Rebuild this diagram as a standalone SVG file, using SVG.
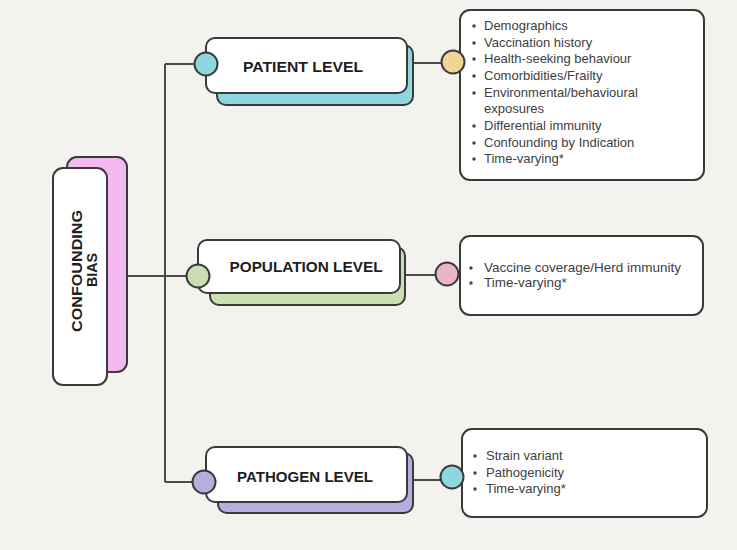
<svg xmlns="http://www.w3.org/2000/svg" width="737" height="550" viewBox="0 0 737 550">
  <defs>
    <style>
      .card { fill: #ffffff; stroke: #3a3a3a; stroke-width: 2; }
      .back { stroke: #3a3a3a; stroke-width: 2; }
      .dot { stroke: #3a3a3a; stroke-width: 2; }
      .link { fill: none; stroke: #4a4a4a; stroke-width: 2; }
      .title { font-family: "Liberation Sans", "DejaVu Sans", sans-serif; font-weight: bold; font-size: 15px; fill: #1e1e1e; text-anchor: middle; }
      .item { font-family: "Liberation Sans", Arial, sans-serif; font-size: 13px; fill: #404040; }
      .bullet { fill: #404040; }
    </style>
  </defs>

  <rect width="737" height="550" fill="#f3f2ee"/>

  <!-- connectors -->
  <g id="connectors">
    <path class="link" d="M127 276 H165"/>
    <path class="link" d="M165 64 V482"/>
    <path class="link" d="M165 64 H196"/>
    <path class="link" d="M165 276 H188"/>
    <path class="link" d="M165 482 H193"/>
    <path class="link" d="M412 63 H444"/>
    <path class="link" d="M405 275 H436"/>
    <path class="link" d="M412 480 H441"/>
  </g>

  <!-- root -->
  <g id="confounding-bias">
    <rect class="back" x="67" y="157" width="60" height="215" rx="10" fill="#f4b9f1"/>
    <rect class="card" x="53" y="168" width="54" height="217" rx="10"/>
    <text class="title" transform="translate(82 271) rotate(-90)" textLength="122" lengthAdjust="spacingAndGlyphs">CONFOUNDING</text>
    <text class="title" transform="translate(97 270) rotate(-90)" textLength="34" lengthAdjust="spacingAndGlyphs">BIAS</text>
  </g>

  <!-- patient level -->
  <g id="patient-level">
    <rect class="back" x="217" y="45" width="196" height="60" rx="9" fill="#8dd8df"/>
    <rect class="card" x="206" y="38" width="201" height="55" rx="9"/>
    <circle class="dot" cx="206" cy="64" r="11.5" fill="#8dd8df"/>
    <text class="title" x="303" y="72" textLength="120" lengthAdjust="spacingAndGlyphs">PATIENT LEVEL</text>
  </g>

  <g id="patient-factors">
    <rect class="card" x="460" y="10" width="244" height="170" rx="10"/>
    <circle class="dot" cx="453" cy="62" r="11.5" fill="#f1d592"/>
    <g class="bullet">
      <circle cx="474" cy="26" r="1.7"/>
      <circle cx="474" cy="43" r="1.7"/>
      <circle cx="474" cy="59" r="1.7"/>
      <circle cx="474" cy="76" r="1.7"/>
      <circle cx="474" cy="93" r="1.7"/>
      <circle cx="474" cy="126" r="1.7"/>
      <circle cx="474" cy="143" r="1.7"/>
      <circle cx="474" cy="159" r="1.7"/>
    </g>
    <text class="item" x="484" y="30">Demographics</text>
    <text class="item" x="484" y="47">Vaccination history</text>
    <text class="item" x="484" y="63">Health-seeking behaviour</text>
    <text class="item" x="484" y="80">Comorbidities/Frailty</text>
    <text class="item" x="484" y="97">Environmental/behavioural</text>
    <text class="item" x="484" y="113">exposures</text>
    <text class="item" x="484" y="130">Differential immunity</text>
    <text class="item" x="484" y="147">Confounding by Indication</text>
    <text class="item" x="484" y="163">Time-varying*</text>
  </g>

  <!-- population level -->
  <g id="population-level">
    <rect class="back" x="210" y="247" width="195" height="58" rx="9" fill="#c9dfb1"/>
    <rect class="card" x="198" y="240" width="202" height="53" rx="9"/>
    <circle class="dot" cx="198" cy="276" r="11.5" fill="#c9dfb1"/>
    <text class="title" x="306" y="272" textLength="153" lengthAdjust="spacingAndGlyphs">POPULATION LEVEL</text>
  </g>

  <g id="population-factors">
    <rect class="card" x="460" y="236" width="243" height="79" rx="10"/>
    <circle class="dot" cx="447" cy="274" r="11.5" fill="#eab5c9"/>
    <g class="bullet">
      <circle cx="471" cy="268" r="1.7"/>
      <circle cx="471" cy="283" r="1.7"/>
    </g>
    <text class="item" x="484" y="272" style="font-size:13.5px">Vaccine coverage/Herd immunity</text>
    <text class="item" x="484" y="287" style="font-size:13.5px">Time-varying*</text>
  </g>

  <!-- pathogen level -->
  <g id="pathogen-level">
    <rect class="back" x="218" y="453" width="195" height="60" rx="9" fill="#b7aee0"/>
    <rect class="card" x="206" y="447" width="201" height="55" rx="9"/>
    <circle class="dot" cx="204" cy="482" r="11.5" fill="#b7aee0"/>
    <text class="title" x="305" y="482" textLength="136" lengthAdjust="spacingAndGlyphs">PATHOGEN LEVEL</text>
  </g>

  <g id="pathogen-factors">
    <rect class="card" x="462" y="429" width="245" height="88" rx="10"/>
    <circle class="dot" cx="452" cy="477" r="11.5" fill="#8dd8df"/>
    <g class="bullet">
      <circle cx="475" cy="456" r="1.7"/>
      <circle cx="475" cy="473" r="1.7"/>
      <circle cx="475" cy="489" r="1.7"/>
    </g>
    <text class="item" x="486" y="460">Strain variant</text>
    <text class="item" x="486" y="477">Pathogenicity</text>
    <text class="item" x="486" y="493">Time-varying*</text>
  </g>
</svg>
